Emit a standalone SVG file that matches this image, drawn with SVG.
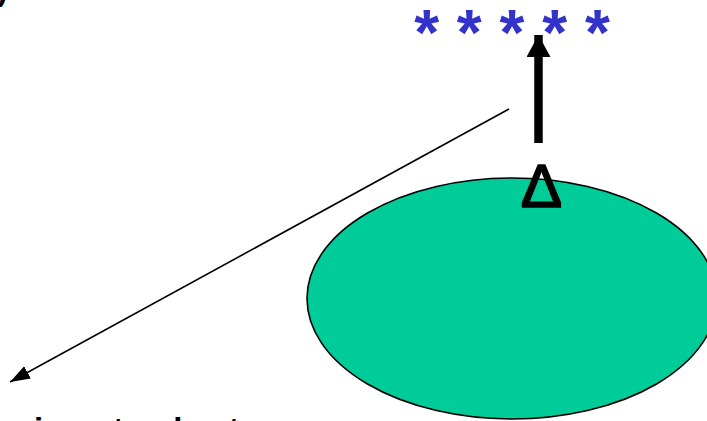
<svg xmlns="http://www.w3.org/2000/svg" width="707" height="421" viewBox="0 0 707 421">
  <defs>
    <marker id="thinHead" markerUnits="userSpaceOnUse" markerWidth="22" markerHeight="16" refX="20" refY="7" orient="auto">
      <path d="M0,0 L20,7 L0,14 Z" fill="#000"/>
    </marker>
    <marker id="thickHead" markerUnits="userSpaceOnUse" markerWidth="24" markerHeight="26" refX="22" refY="12" orient="auto">
      <path d="M0,0 L22,12 L0,24 Z" fill="#000"/>
    </marker>
  </defs>
  <style>
    .lbl { font-family: "Liberation Sans", Arial, sans-serif; fill: #000; }
    .stars { font-family: "Liberation Sans", Arial, sans-serif; font-size: 64px; font-weight: bold; fill: #3333CC; }
  </style>
  <rect width="707" height="421" fill="#fff"/>
  <text class="lbl" x="-3" y="0" font-size="33" font-weight="bold">)</text>
  <g id="tree">
    <ellipse cx="512" cy="298.5" rx="205" ry="120.5" fill="#00CC99" stroke="#000" stroke-width="1.6"/>
  </g>
  <g id="delta">
    <text class="lbl" x="541.5" y="206.5" font-size="62" text-anchor="middle" stroke="#000" stroke-width="1.6">Δ</text>
  </g>
  <g id="stars">
    <text class="stars" x="512" y="55" text-anchor="middle">* * * * *</text>
  </g>
  <g id="label">
    <text class="lbl" x="34" y="441" font-size="33" font-weight="bold">insert only at</text>
  </g>
  <g id="connectors">
    <line x1="509" y1="109" x2="10" y2="382" stroke="#000" stroke-width="1.6" marker-end="url(#thinHead)"/>
    <line x1="538.5" y1="143" x2="538.5" y2="35" stroke="#000" stroke-width="8.5" marker-end="url(#thickHead)"/>
  </g>
</svg>
